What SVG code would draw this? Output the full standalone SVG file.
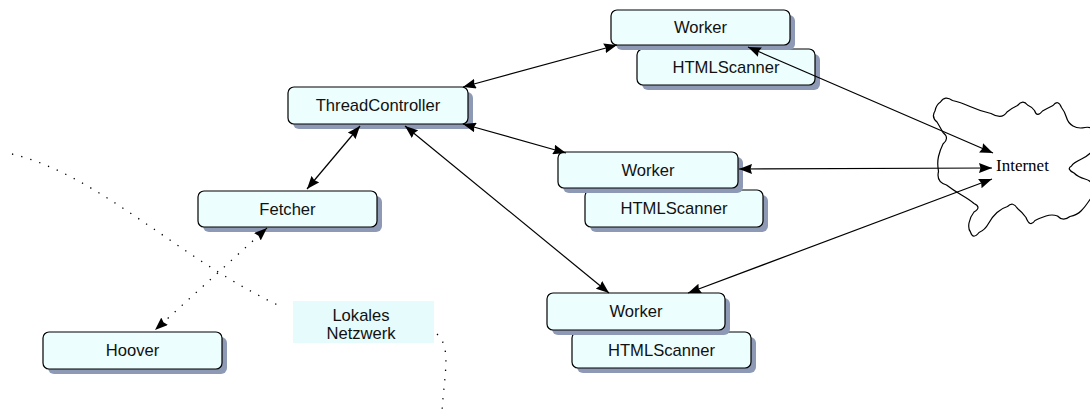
<svg xmlns="http://www.w3.org/2000/svg" width="1090" height="418" viewBox="0 0 1090 418">
  <style>
    .shadow { fill: #8e9ab5; }
    .box { fill: #ecfefe; stroke: #000; stroke-width: 1.2; }
    .lbl { font-family: "Liberation Sans", Arial, sans-serif; font-size: 16.6px; fill: #111; text-anchor: middle; }
    .serif { font-family: "Liberation Serif", "Times New Roman", serif; font-size: 17px; fill: #000; }
    .link { stroke: #000; stroke-width: 1.2; fill: none; marker-start: url(#head); marker-end: url(#head); }
    .dotlink { stroke: #000; stroke-width: 1.3; fill: none; stroke-dasharray: 1.3 8.2; marker-start: url(#head); marker-end: url(#head); }
    .dots { stroke: #000; stroke-width: 1.3; fill: none; stroke-dasharray: 1.3 8.2; }
  </style>
  <defs>
    <marker id="head" viewBox="0 0 13 10" refX="13" refY="5" markerWidth="13" markerHeight="10" markerUnits="userSpaceOnUse" orient="auto-start-reverse">
      <path d="M0,0 L13,5 L0,10 L1.5,5 z" fill="#000"/>
    </marker>
  </defs>

  <rect width="1090" height="418" fill="#fff"/>

  <!-- network boundary, dotted -->
  <g id="lan-boundary">
    <path class="dots" d="M12,154 C100,175 180,260 282,307"/>
    <path class="dots" d="M437,334 C452,348 444,375 442,412"/>
  </g>

  <!-- cloud -->
  <g id="internet">
    <path fill="none" stroke="#000" stroke-width="1.2" d="M937,122 Q931,117 935,111 Q936,105 940.5,102 Q945,95 952.5,100.5 Q960,102 970,106.5 Q980,111 991,113.5 Q1002,120 1007,112 Q1012,108 1017.5,105.5 Q1023,99 1027.5,105 Q1032,107 1034.5,110.5 Q1037,118 1042.5,111 Q1048,108 1053,105.5 Q1058,99 1061.5,107.5 Q1065,112 1066.5,117.5 Q1068,123 1073,126 Q1078,129 1085,127.5 Q1092,126 1096,133 Q1100,140 1095,147.5 Q1090,155 1081.5,159 Q1073,163 1071.5,166 Q1066,169 1074,173 Q1078,177 1085,179 Q1092,181 1093.5,186.5 Q1095,192 1090,199.5 Q1085,207 1081,211 Q1077,215 1070,216.5 Q1063,222 1057.5,216 Q1052,214 1046,216 Q1040,218 1035,220.5 Q1030,228 1026,217.5 Q1022,212 1017.5,208.5 Q1013,201 1007.5,206.5 Q1002,208 997,212.5 Q992,217 988.5,223.5 Q985,230 979,232.5 Q973,240 970.5,232 Q968,229 969,223 Q970,217 974,212 Q982,207 974,203.5 Q970,200 961.5,195 Q953,190 946.5,185 Q936,182 938.5,171.5 Q937,163 938.5,156.5 Q940,150 943,144 Q950,138 943,132.5 Q940,127 937,122 Z"/>
    <text class="serif" x="996" y="171">Internet</text>
  </g>

  <g id="lan-label">
    <rect x="293" y="301" width="141" height="42" fill="#e6fbfb"/>
    <text class="lbl" x="361" y="321">Lokales</text>
    <text class="lbl" x="361" y="339">Netzwerk</text>
  </g>

  <g id="scanner1">
    <rect class="shadow" x="642" y="54" width="178" height="36" rx="6"/>
    <rect class="box" x="637" y="49" width="178" height="36" rx="6"/>
    <text class="lbl" x="726" y="73">HTMLScanner</text>
  </g>
  <g id="worker1">
    <rect class="shadow" x="616" y="15" width="179" height="35" rx="6"/>
    <rect class="box" x="611" y="10" width="179" height="35" rx="6"/>
    <text class="lbl" x="700.5" y="33">Worker</text>
  </g>

  <g id="threadcontroller">
    <rect class="shadow" x="293" y="92" width="180" height="37" rx="6"/>
    <rect class="box" x="288" y="87" width="180" height="37" rx="6"/>
    <text class="lbl" x="378" y="111">ThreadController</text>
  </g>

  <g id="scanner2">
    <rect class="shadow" x="590" y="195" width="178" height="37" rx="6"/>
    <rect class="box" x="585" y="190" width="178" height="37" rx="6"/>
    <text class="lbl" x="674" y="214">HTMLScanner</text>
  </g>
  <g id="worker2">
    <rect class="shadow" x="563" y="157" width="180" height="36" rx="6"/>
    <rect class="box" x="558" y="152" width="180" height="36" rx="6"/>
    <text class="lbl" x="648" y="176">Worker</text>
  </g>

  <g id="fetcher">
    <rect class="shadow" x="203" y="196" width="179" height="36" rx="6"/>
    <rect class="box" x="198" y="191" width="179" height="36" rx="6"/>
    <text class="lbl" x="287.5" y="215">Fetcher</text>
  </g>

  <g id="scanner3">
    <rect class="shadow" x="577" y="337" width="179" height="36" rx="6"/>
    <rect class="box" x="572" y="332" width="179" height="36" rx="6"/>
    <text class="lbl" x="661.5" y="356">HTMLScanner</text>
  </g>
  <g id="worker3">
    <rect class="shadow" x="552" y="298" width="178" height="37" rx="6"/>
    <rect class="box" x="547" y="293" width="178" height="37" rx="6"/>
    <text class="lbl" x="636" y="317">Worker</text>
  </g>

  <g id="hoover">
    <rect class="shadow" x="48" y="337" width="179" height="37" rx="6"/>
    <rect class="box" x="43" y="332" width="179" height="37" rx="6"/>
    <text class="lbl" x="132.5" y="356">Hoover</text>
  </g>

  <!-- connectors -->
  <g id="connectors">
    <line class="link" x1="463" y1="87" x2="617" y2="45"/>
    <line class="link" x1="463" y1="124" x2="566" y2="153"/>
    <line class="link" x1="405" y1="126" x2="609" y2="293"/>
    <line class="link" x1="360" y1="126" x2="307" y2="189"/>
    <line class="link" x1="748" y1="47" x2="993" y2="153"/>
    <line class="link" x1="739" y1="169" x2="992" y2="168"/>
    <line class="link" x1="688" y1="293" x2="992" y2="179"/>
    <line class="dotlink" x1="267" y1="228" x2="155" y2="330"/>
  </g>
</svg>
